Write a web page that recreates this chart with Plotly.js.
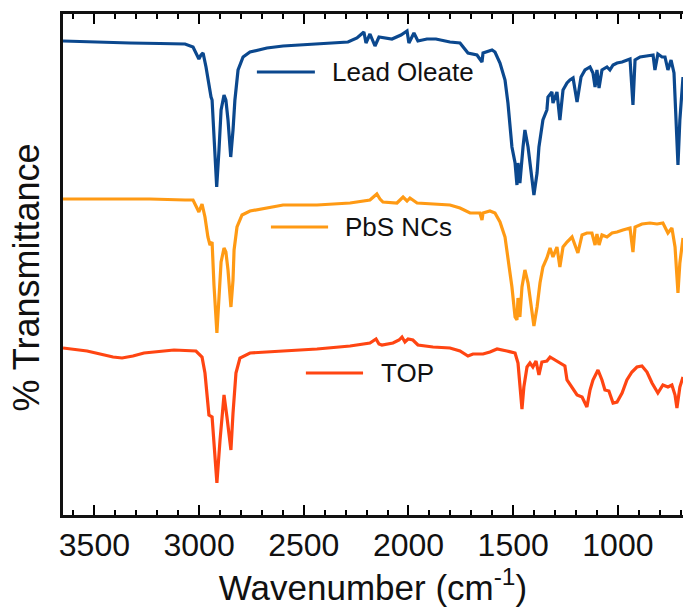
<!DOCTYPE html>
<html>
<head>
<meta charset="utf-8">
<script src="https://cdn.plot.ly/plotly-3.0.1.min.js"></script>
<style>html,body{margin:0;padding:0;background:#fff;}#chart{width:683px;height:612px;}</style>
</head>
<body>
<div id="chart"></div>
<script>
// Series names
var seriesNames = ["Lead Oleate", "PbS NCs", "TOP"];

// Lead Oleate (wavenumber, cm^-1) and offset transmittance (arb. units)
var leadWn = [3650,3521,3330,3187,3067,3029,3010,3001,2991,2981,2967,2953,2943,2938,2929,2916,2905,2895,2881,2872,2862,2849,2838,2829,2814,2790,2757,2676,2599,2437,2289,2246,2213,2203,2184,2160,2141,2079,2036,2007,1998,1974,1955,1912,1869,1802,1754,1716,1673,1649,1644,1601,1587,1563,1539,1525,1506,1491,1482,1477,1468,1453,1444,1429,1410,1401,1386,1377,1358,1339,1334,1315,1310,1291,1277,1262,1243,1229,1214,1195,1176,1157,1133,1119,1109,1100,1090,1076,1052,1038,1023,1004,980,957,942,928,918,894,861,832,823,809,789,775,761,746,732,723,713,704,694,689];
var leadT  = [472,471,470,469.5,469,466,458,454,458,460,446,426,416,413,373,326,363,403,418,413,393,356,383,413,443,456,461,465,467,469,471,475,481,470,479,467,476,474,478,482,470,480,472,474,474,471,470,460,458,451,460,463,461,450,433,410,366,350,328,350,330,366,383,366,333,318,340,366,393,403,416,421,410,421,393,423,430,433,435,411,436,443,446,440,426,443,425,443,446,443,448,450,451,453,454,408,453,456,457,458,443,459,456,456,443,453,440,393,348,393,426,436];

// PbS NCs
var pbsWn = [3650,3473,3235,3067,3029,3015,3001,2986,2972,2958,2948,2938,2929,2915,2905,2895,2881,2872,2862,2848,2838,2833,2819,2795,2757,2676,2599,2437,2279,2184,2165,2151,2136,2122,2055,2026,2007,1993,1959,1883,1802,1754,1706,1659,1649,1644,1611,1587,1563,1539,1525,1506,1491,1482,1477,1468,1458,1444,1429,1410,1401,1386,1372,1358,1339,1324,1310,1291,1277,1262,1243,1219,1191,1171,1148,1124,1109,1100,1090,1076,1052,1028,1004,976,942,928,918,885,847,813,785,761,742,727,713,704,689];
var pbsT  = [314,314,314,313,313,307,301,309,296,276,268,271,228,180,213,251,265,261,243,206,233,263,286,298,302,305,308,308,310,313,316,319,314,311,310,316,312,315,310,309,308,305,300,300,293,300,302,300,291,276,256,226,196,193,215,196,226,243,230,200,187,206,230,246,255,265,256,266,246,266,271,276,260,278,280,280,268,279,268,278,276,280,281,283,285,261,286,289,290,289,290,280,285,266,220,250,275];

// TOP
var topWn = [3650,3535,3473,3411,3368,3316,3263,3187,3120,3015,2986,2972,2962,2953,2938,2929,2915,2900,2881,2867,2848,2838,2824,2805,2757,2599,2437,2279,2184,2155,2141,2127,2074,2045,2031,2017,2002,1979,1955,1883,1802,1754,1716,1692,1644,1611,1577,1530,1491,1477,1463,1458,1449,1434,1420,1406,1391,1377,1363,1339,1324,1300,1277,1253,1243,1219,1195,1171,1148,1133,1119,1095,1076,1062,1043,1023,1004,980,957,933,909,885,861,837,809,785,761,742,727,718,704,689];
var topT  = [165,162,159,156,155,157,160,162,163,162,156,140,116,98,96,66,30,73,118,96,63,100,140,155,160,162,164,167,170,174,169,168,170,173,176,171,174,173,168,166,165,162,157,159,159,161,164,162,160,150,116,104,126,146,150,146,152,138,151,152,156,153,150,147,133,126,118,116,106,123,133,143,133,123,122,110,111,120,133,141,146,147,141,130,120,128,126,128,118,105,126,136];

// Axis tick labels
var xTickVals = [3500, 3000, 2500, 2000, 1500, 1000];
var xTickText = ["3500", "3000", "2500", "2000", "1500", "1000"];

var colors = ["#0b488e", "#ff9a14", "#ff4512"];
var FONT = "Liberation Sans, Arial, Helvetica, sans-serif";

var xs = [leadWn, pbsWn, topWn];
var ys = [leadT, pbsT, topT];

var traces = seriesNames.map(function (n, i) {
  return {
    type: "scatter", mode: "lines", name: n,
    x: xs[i], y: ys[i],
    line: {color: colors[i], width: 3.2}
  };
});

// Label placement (wavenumber for line start/end and text, y level)
var labelPos = [
  {x0: 2724, x1: 2447, xt: 2375, y: 441},
  {x0: 2657, x1: 2384, xt: 2313, y: 286},
  {x0: 2490, x1: 2217, xt: 2141, y: 140}
];

var shapes = labelPos.map(function (p, i) {
  return {type: "line", xref: "x", yref: "y", x0: p.x0, x1: p.x1, y0: p.y, y1: p.y,
          line: {color: colors[i], width: 3}};
});
var annotations = labelPos.map(function (p, i) {
  return {xref: "x", yref: "y", x: p.xt, y: p.y, xanchor: "left", yanchor: "middle",
          text: seriesNames[i], showarrow: false,
          font: {family: FONT, size: 26, color: "#111"}};
});

var layout = {
  width: 683, height: 612,
  margin: {l: 63, r: 0, t: 14, b: 97, pad: 0},
  paper_bgcolor: "#fff", plot_bgcolor: "#fff",
  showlegend: false,
  font: {family: FONT, color: "#111"},
  xaxis: {
    range: [3650, 689],
    tickmode: "array", tickvals: xTickVals, ticktext: xTickText,
    ticks: "inside", ticklen: 10, tickwidth: 2, tickcolor: "#000000",
    minor: {tickmode: "linear", tick0: 0, dtick: 100, ticks: "inside", ticklen: 5, tickwidth: 2, tickcolor: "#000000", showgrid: false},
    showline: true, linewidth: 3, linecolor: "#111", mirror: "ticks",
    showgrid: false, zeroline: false,
    tickfont: {family: FONT, size: 32, color: "#111"},
    title: {text: "Wavenumber (cm<sup>-1</sup>)", font: {family: FONT, size: 35, color: "#111"}, standoff: 8}
  },
  yaxis: {
    range: [-2, 499],
    showticklabels: false, ticks: "",
    showline: true, linewidth: 3, linecolor: "#111", mirror: false,
    showgrid: false, zeroline: false,
    title: {text: "% Transmittance", font: {family: FONT, size: 36, color: "#111"}, standoff: 10}
  },
  shapes: shapes,
  annotations: annotations
};

Plotly.newPlot("chart", traces, layout, {displayModeBar: false}).then(function () {
  // the reference's y title sits a little below the plot's middle
  var t = document.querySelector('g.g-ytitle');
  if (t) t.setAttribute('transform', 'translate(0,13)');
});
</script>
</body>
</html>
